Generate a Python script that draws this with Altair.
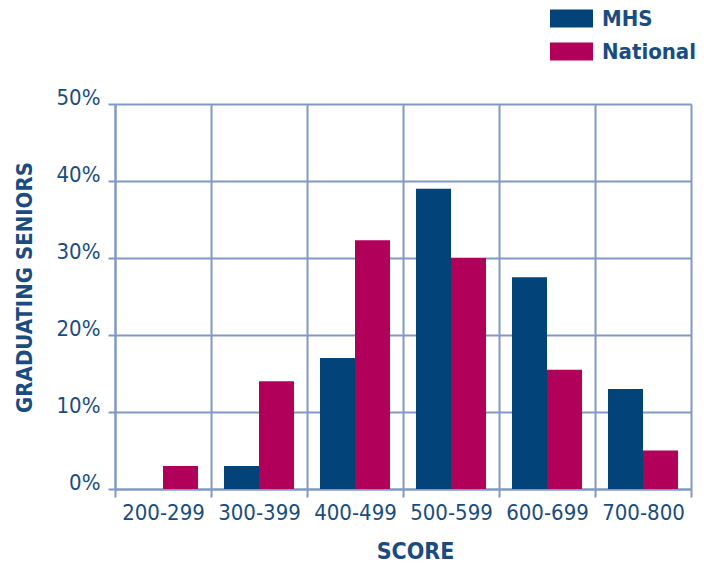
import altair as alt
import pandas as pd

categories = ["200-299", "300-399", "400-499", "500-599", "600-699", "700-800"]
series = ["MHS", "National"]
mhs = [0, 3, 17, 39, 27.5, 13]
national = [3, 14, 32.3, 30, 15.5, 5]
y_ticks = [0, 10, 20, 30, 40, 50]
colors = ["#02447a", "#b0005a"]

rows = []
for c, m, n in zip(categories, mhs, national):
    rows.append({"score": c, "series": "MHS", "value": m})
    rows.append({"score": c, "series": "National", "value": n})
df = pd.DataFrame(rows)

GRID = "#8099c4"
TEXT = "#1a4c80"
FONT = "DejaVu Sans Condensed"

chart = alt.Chart(df).mark_bar().encode(
    x=alt.X(
        "score:N",
        sort=categories,
        scale=alt.Scale(paddingInner=0, paddingOuter=0),
        axis=alt.Axis(
            title="SCORE", labelAngle=0, tickBand="extent", grid=True,
            gridColor=GRID, gridWidth=2, domainColor=GRID, domainWidth=2,
            tickColor=GRID, tickWidth=2, tickSize=8, labelPadding=5,
            labelFont=FONT, labelFontSize=22, labelColor=TEXT,
            titleFont=FONT, titleFontSize=23, titleFontWeight="bold", titleColor=TEXT,
            titleX=300, titleY=69, titleAlign="center", titleBaseline="alphabetic",
        ),
    ),
    xOffset=alt.XOffset("series:N", sort=series,
                        scale=alt.Scale(paddingInner=0, paddingOuter=0.37)),
    y=alt.Y(
        "value:Q",
        scale=alt.Scale(domain=[0, 50]),
        axis=alt.Axis(
            values=y_ticks, labelExpr="datum.value + '%'", title="GRADUATING SENIORS",
            grid=True, gridColor=GRID, gridWidth=2, domainColor=GRID, domainWidth=2,
            tickColor=GRID, tickWidth=2, tickSize=7, labelPadding=8,
            labelFont=FONT, labelFontSize=22, labelColor=TEXT, labelBaseline="alphabetic",
            titleFont=FONT, titleFontSize=22, titleFontWeight="bold", titleColor=TEXT,
            titleX=-84, titleY=183, titleAngle=270, titleAlign="center",
            titleBaseline="alphabetic",
        ),
    ),
    color=alt.Color(
        "series:N", sort=series,
        scale=alt.Scale(domain=series, range=colors),
        legend=alt.Legend(
            title=None, orient="none", legendX=435, legendY=-107, padding=0,
            symbolType="M-1,-0.42H1V0.42H-1Z", symbolSize=1849, symbolStrokeWidth=0,
            labelFont=FONT, labelFontSize=22, labelFontWeight="bold", labelColor=TEXT,
            labelOffset=9, rowPadding=-5.5, symbolOpacity=1,
        ),
    ),
).properties(
    width=576, height=385,
    padding={"left": 107, "top": 96, "right": 8, "bottom": 74},
    autosize=alt.AutoSizeParams(type="none"),
).configure_view(stroke=None)

chart.save("out.html", embed_options={"renderer": "svg", "actions": False})
